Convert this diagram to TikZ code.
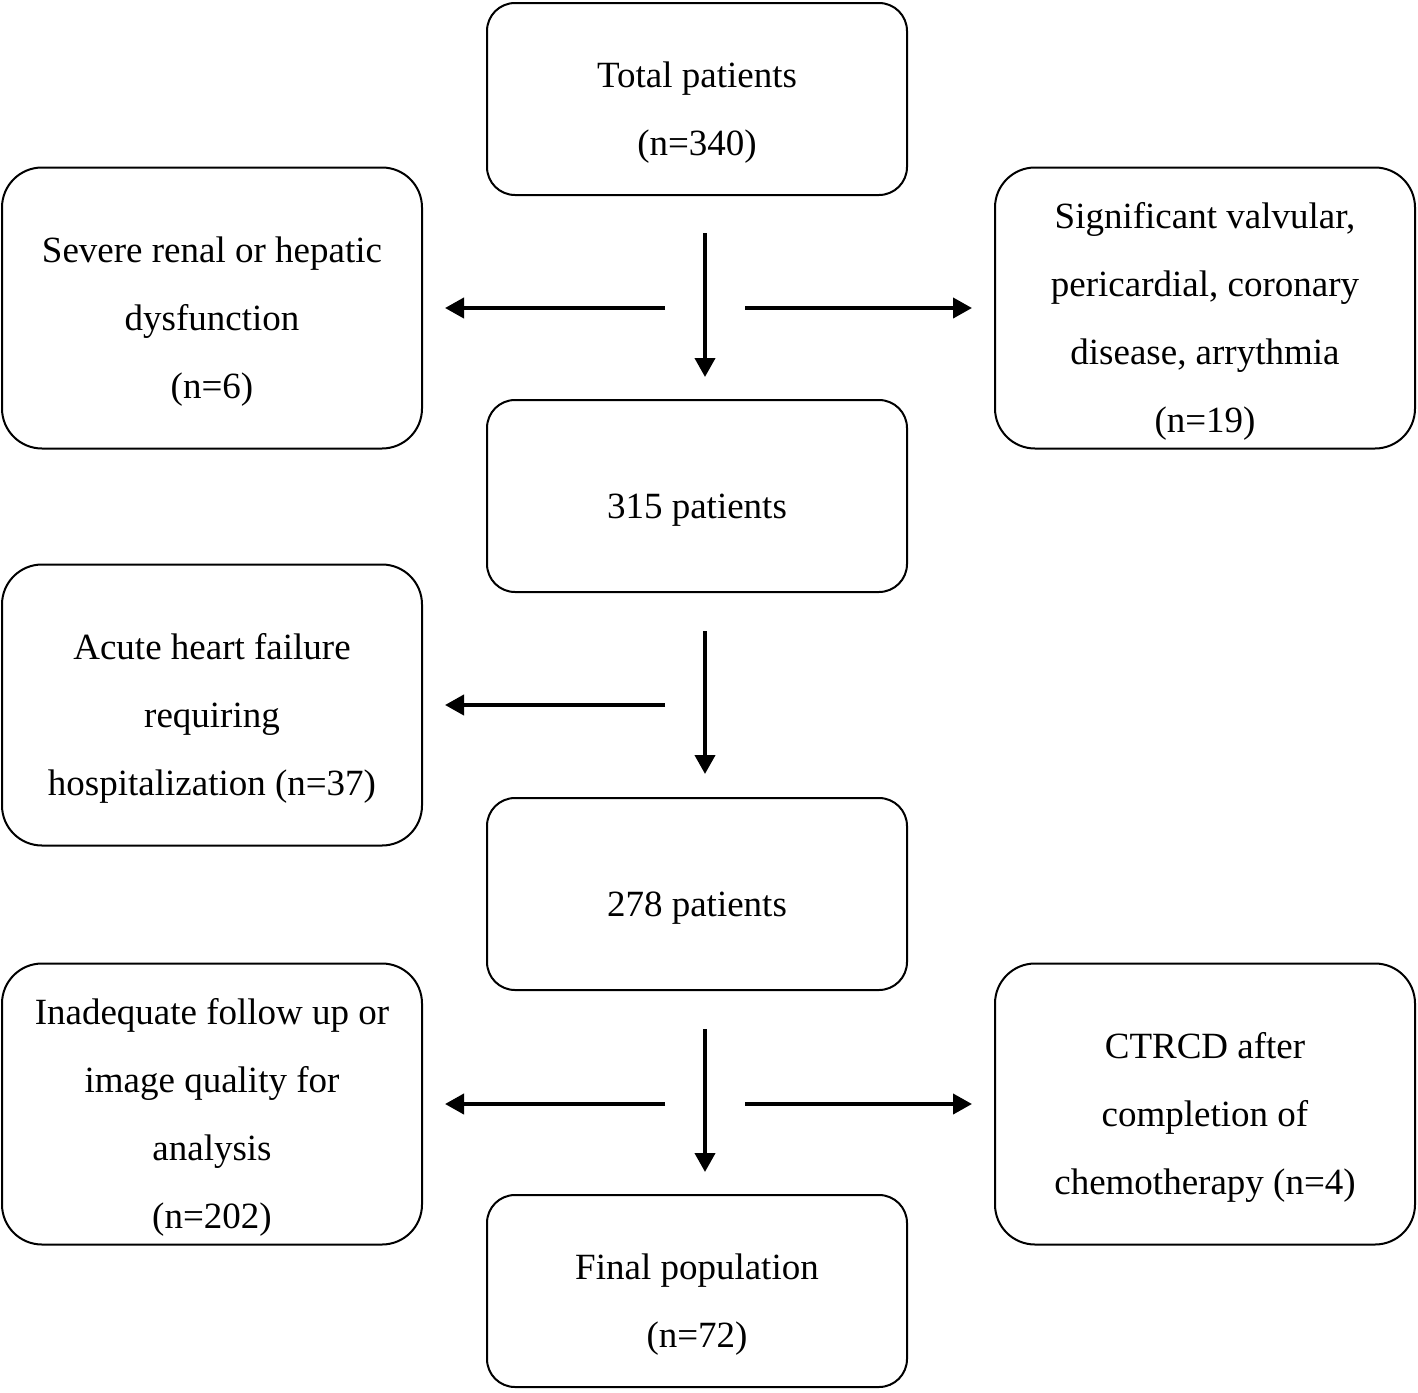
\documentclass[tikz,border=0pt]{standalone}
\usepackage{fontspec}
\setmainfont{Liberation Serif}
\usetikzlibrary{positioning,arrows.meta}

\begin{document}
\begin{tikzpicture}[
box/.style={draw, line width=1pt, rounded corners=14pt, inner sep=2pt, text width=206pt, minimum height=96pt, align=flush center, font=\fontsize{18.5}{34}\selectfont, execute at begin node={\rule{0pt}{26pt}}},
side/.style={box, rounded corners=20pt, minimum height=140.5pt},
arr/.style={line width=2pt, -{Triangle[length=9.5pt,width=10pt]}},
]
\useasboundingbox (0,0) rectangle (709pt,-696pt);
\node[box] (t) at (348.5pt,-49.5pt) {Total patients\\(n=340)};
\node[box, below=101.5pt of t] (a) {315 patients};
\node[box, below=102pt of a] (b) {278 patients};
\node[box, below=101.5pt of b] (f) {Final population\\(n=72)};
\coordinate (c1) at ([xshift=4pt,yshift=-56pt]t.south);
\coordinate (c2) at ([xshift=4pt,yshift=-56pt]a.south);
\coordinate (c3) at ([xshift=4pt,yshift=-56.5pt]b.south);
\node[side, left=141pt of c1] (l1) {Severe renal or hepatic\\dysfunction\\(n=6)};
\node[side, right=144.5pt of c1] (r1) {Significant valvular,\\pericardial, coronary\\disease, arrythmia\\(n=19)};
\node[side, left=141pt of c2] (l2) {Acute heart failure\\requiring\\hospitalization (n=37)};
\node[side, left=141pt of c3] (l3) {Inadequate follow up or\\image quality for\\analysis\\(n=202)};
\node[side, right=144.5pt of c3] (r3) {CTRCD after\\completion of\\chemotherapy (n=4)};
\draw[arr] ([xshift=4pt,yshift=-18.5pt]t.south) -- ([xshift=4pt,yshift=11pt]a.north);
\draw[arr] ([xshift=4pt,yshift=-19pt]a.south) -- ([xshift=4pt,yshift=11.5pt]b.north);
\draw[arr] ([xshift=4pt,yshift=-19pt]b.south) -- ([xshift=4pt,yshift=11pt]f.north);
\draw[arr] ([xshift=-20pt]c1) -- ([xshift=11pt]l1.east);
\draw[arr] ([xshift=20pt]c1) -- ([xshift=-11pt]r1.west);
\draw[arr] ([xshift=-20pt]c2) -- ([xshift=11pt]l2.east);
\draw[arr] ([xshift=-20pt]c3) -- ([xshift=11pt]l3.east);
\draw[arr] ([xshift=20pt]c3) -- ([xshift=-11pt]r3.west);
\end{tikzpicture}
\end{document}
